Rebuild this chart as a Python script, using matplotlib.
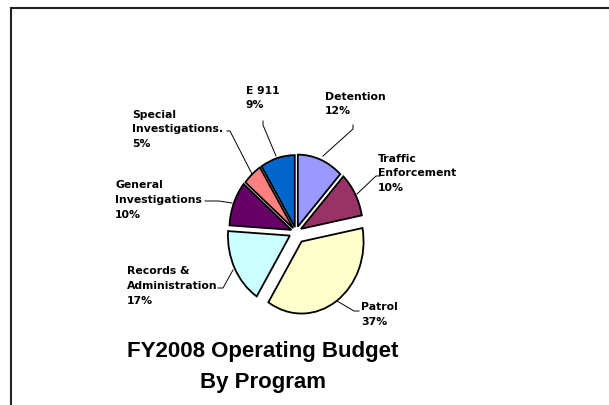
import matplotlib
matplotlib.use("Agg")
import matplotlib.pyplot as plt
from matplotlib.lines import Line2D

categories = ["Detention", "Traffic\nEnforcement", "Patrol", "Records &\nAdministration",
              "General\nInvestigations", "Special\nInvestigations.", "E 911"]
values = [12, 10, 37, 17, 10, 5, 9]
colors = ["#9999FF", "#993366", "#FFFFCC", "#CCFFFF", "#660066", "#FF8080", "#0066CC"]
explode = [0.08, 0.09, 0.16, 0.11, 0.08, 0.07, 0.07]
title = "FY2008 Operating Budget\nBy Program"

W, H = 609, 406
CX, CY = 296, 233     # pie centre in pixels
RX, RY = 62, 72       # pie radii in pixels

fig = plt.figure(figsize=(W / 100, H / 100), dpi=100)
ax = fig.add_axes([0, 0, 1, 1])


def P(px, py):
    return ((px - CX) / RX, (CY - py) / RY)


ax.pie(values, explode=explode, colors=colors, startangle=90, counterclock=False,
       radius=1, center=(0, 0), frame=True,
       wedgeprops=dict(edgecolor="black", linewidth=1.3))
ax.set_xlim(-CX / RX, (W - CX) / RX)
ax.set_ylim((CY - H) / RY, CY / RY)
ax.set_aspect("auto")
ax.axis("off")

# label text positions (pixel, left x, first-line centre y) and leader lines
label_pos = [(325, 96), (378, 158), (361, 307), (127, 271), (115, 185), (132, 114), (246, 90)]
leaders = [
    [(353, 126), (353, 130), (323, 157)],
    [(380, 177), (376, 177), (357, 195)],
    [(359, 312), (354, 312), (337, 302)],
    [(218, 289), (223, 289), (233, 271)],
    [(205, 202), (219, 202), (232, 204)],
    [(227, 132), (230, 132), (252, 175)],
    [(263, 122), (263, 126), (276, 157)],
]

for cat, v, (lx, ly), pts in zip(categories, values, label_pos, leaders):
    x, y = P(lx, ly - 4.5)
    ax.text(x, y, f"{cat}\n{v}%", ha="left", va="top", fontsize=7.8,
            fontweight="bold", family="DejaVu Sans", linespacing=1.58,
            color="black")
    xs, ys = zip(*[P(a, b) for a, b in pts])
    ax.plot(xs, ys, color="black", lw=0.7)

tx, ty = P(263, 367)
ax.text(tx, ty, title, ha="center", va="center", fontsize=16, fontweight="bold",
        family="Liberation Sans", linespacing=1.6, color="black")

# frame (partially cropped border)
fig.add_artist(Line2D([11 / W, 1.0], [1 - 9 / H, 1 - 9 / H], transform=fig.transFigure,
                      color="#222222", lw=1.5))
fig.add_artist(Line2D([11 / W, 11 / W], [0.0, 1 - 9 / H], transform=fig.transFigure,
                      color="#222222", lw=1.5))

fig.savefig("out.png", dpi=100)
